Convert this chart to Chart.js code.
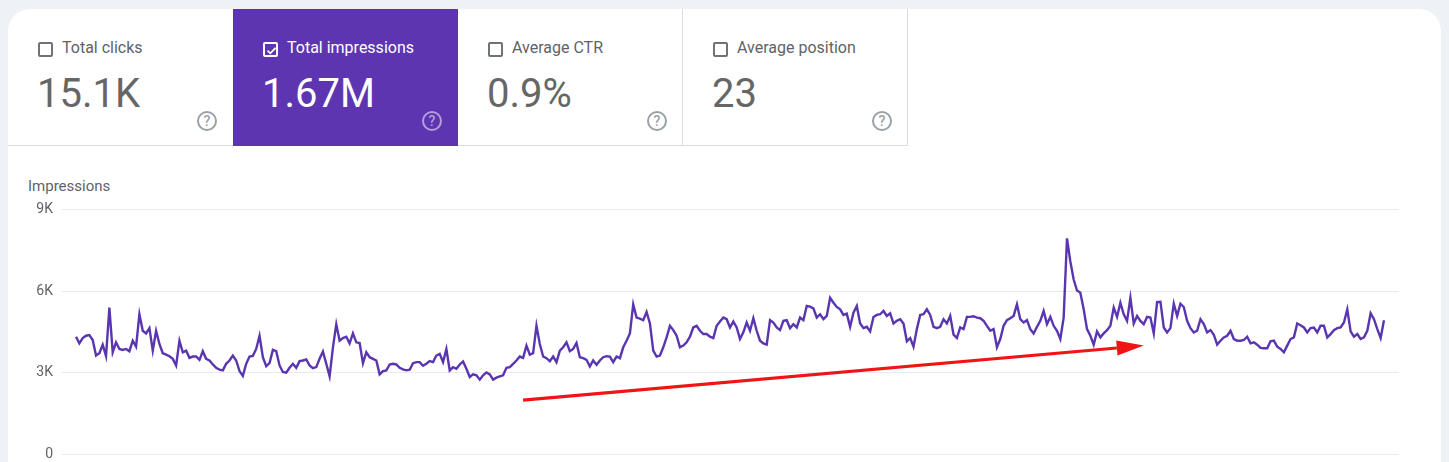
<!DOCTYPE html>
<html>
<head>
<meta charset="utf-8">
<script src="https://cdn.jsdelivr.net/npm/chart.js@4/dist/chart.umd.min.js"></script>
<style>
  html, body { margin: 0; padding: 0; overflow: hidden; }
  body { width: 1449px; height: 462px; background: #eef2f7; font-family: Roboto, Arial, sans-serif; position: relative; }
  .card { position: absolute; left: 8px; top: 9px; width: 1433px; height: 470px; background: #fff; border-radius: 22px 22px 0 0; overflow: hidden; }
  .tiles { position: absolute; left: 0; top: 0; height: 137px; }
  .tile { position: absolute; top: 0; width: 225px; height: 137px; box-sizing: border-box; border-bottom: 1px solid #dadce0; border-right: 1px solid #dadce0; color: #5f6368; }
  .tile.first { border-right: none; }
  .tile.on { background: #5e35b1; color: #fff; border: none; height: 137px; }
  .box { position: absolute; left: 30px; top: 33px; width: 15px; height: 15px; box-sizing: border-box; border: 2px solid #6f7378; border-radius: 2px; }
  .on .box { border-color: #fff; }
  .box svg { position: absolute; left: -1px; top: -1px; }
  .name { position: absolute; left: 54px; top: 30px; font-size: 16px; line-height: 18px; white-space: nowrap; }
  .value { position: absolute; left: 29px; top: 65px; font-size: 40px; line-height: 40px; color: #666; white-space: nowrap; }
  .on .value { color: #fff; }
  .help { position: absolute; left: 189px; top: 102px; width: 20px; height: 20px; box-sizing: border-box; border: 2px solid #9aa0a6; border-radius: 50%; color: #9aa0a6; font-size: 14px; line-height: 16px; text-align: center; font-weight: 500; }
  .on .help { border-color: #b39ddb; color: #b39ddb; }
  .axis-title { position: absolute; left: 20px; top: 170px; font-size: 15px; line-height: 15px; color: #5f6368; }
  .chart-box { position: absolute; left: 0; top: 183px; width: 1400px; height: 280px; }
</style>
</head>
<body>
<div class="card">
  <div class="tiles" id="tiles"></div>
  <div class="axis-title">Impressions</div>
  <div class="chart-box"><canvas id="myChart"></canvas></div>
</div>
<script>
var metricNames = ["Total clicks", "Total impressions", "Average CTR", "Average position"];
var metricValues = ["15.1K", "1.67M", "0.9%", "23"];
var selectedMetric = 1;

var yTicks = [0, 3000, 6000, 9000];

// daily impressions left to right
var impressions = [
  4327,4084,4278,4363,4387,4206,3636,3721,4036,3612,
  5393,3757,4121,3878,3842,3878,3794,4181,3963,5151,
  4545,4448,4642,3818,4545,4060,3721,3672,3612,3515,
  3272,4181,3757,3818,3551,3600,3600,3479,3794,3515,
  3454,3309,3188,3115,3091,3333,3454,3636,3454,3066,
  2885,3333,3600,3624,3878,4363,3575,3248,3357,3842,
  3794,3272,3030,3006,3188,3333,3188,3430,3454,
  3491,3272,3175,3212,3515,3781,3333,2872,3939,4787,
  4181,4278,4327,4084,4448,4121,4097,3357,3757,3575,
  3515,3454,2945,3066,3091,3309,3333,3309,3188,3127,
  3091,3115,3357,3394,3394,3260,3333,3430,3394,3636,
  3697,3394,3878,3091,3212,3151,3309,3418,3151,2848,
  2945,2909,2751,2909,3018,2945,2751,2824,2872,2909,
  3188,3212,3333,3454,3600,3551,4000,3672,
  3721,4727,4060,3600,3539,3430,3600,3394,3818,3939,
  4121,3794,3878,4097,3575,3539,3479,3236,3454,3297,
  3454,3575,3612,3600,3394,3600,3539,3939,4181,4448,
  5515,5030,4993,4933,5236,4812,3818,3600,3636,3939,
  4303,4727,4569,4363,3939,4000,4121,4327,4666,4727,
  4545,4424,4424,4327,4278,4727,4884,5030,4969,4666,
  4884,4666,4242,4485,4848,4545,5006,4545,4181,
  4084,4036,4933,4848,4666,4569,4909,4933,4642,4787,
  4666,5030,4933,5454,5430,5369,5030,5151,4969,5090,
  5757,5575,5418,5333,5127,5175,4690,5212,5454,4812,
  4642,4690,4521,5054,5127,5151,5272,5090,5187,4812,
  4909,4969,4812,4157,4278,3963,4606,5127,5151,5333,
  5127,4690,4642,4690,4969,4812,5090,4400,4278,4666,
  4606,5054,5054,5078,5030,5006,4909,4727,4545,
  4606,3939,4242,4727,4933,5006,5090,5515,4969,4848,
  4933,4606,4448,4691,4909,5272,4788,5054,4727,4545,
  4242,5030,7939,7090,6424,6024,5939,5333,4606,4363,
  4036,4521,4303,4448,4569,4727,5394,5054,5575,5151,
  4909,5757,4812,5090,4909,4788,5054,5030,4448,5600,
  5612,4666,4485,4642,5539,5090,5539,5418,4909,4642,
  4485,4545,4970,4788,4485,4569,4400,4036,
  4181,4303,4363,4545,4242,4181,4181,4206,4327,4084,
  4121,4036,3915,3903,3903,4157,4181,3963,3878,3757,
  4000,4242,4303,4812,4751,4666,4485,4642,4666,4485,
  4727,4727,4303,4424,4569,4642,4666,4848,5333,4521,
  4327,4424,4242,4303,4545,5187,4969,4606,4278,4933
];

// red trend arrow, in data units [day index, impressions]
var arrowFrom = [134, 2000];
var arrowTo = [320, 4000];

function renderTiles() {
  var tilesBlock = document.querySelector("#tiles");
  var htmls = metricNames.map(function (name, i) {
    var cls = "tile" + (i === 0 ? " first" : "") + (i === selectedMetric ? " on" : "");
    var check = i === selectedMetric
      ? '<svg width="15" height="15" viewBox="0 0 15 15"><path d="M3.5 7.6 L6.3 10.3 L11.6 4.8" stroke="#fff" stroke-width="1.8" fill="none"/></svg>'
      : "";
    return `
      <div class="${cls}" style="left:${i * 225}px">
        <div class="box">${check}</div>
        <div class="name">${name}</div>
        <div class="value">${metricValues[i]}</div>
        <div class="help">?</div>
      </div>
    `;
  });
  tilesBlock.innerHTML = htmls.join("");
}

var arrowPlugin = {
  id: "arrow",
  afterDatasetsDraw: function (chart) {
    var ctx = chart.ctx;
    var xs = chart.scales.x;
    var ys = chart.scales.y;
    var x1 = xs.getPixelForValue(arrowFrom[0]);
    var y1 = ys.getPixelForValue(arrowFrom[1]);
    var x2 = xs.getPixelForValue(arrowTo[0]);
    var y2 = ys.getPixelForValue(arrowTo[1]);
    var ang = Math.atan2(y2 - y1, x2 - x1);
    var headLen = 27;
    var headHalf = 7.5;
    var bx = x2 - headLen * Math.cos(ang);
    var by = y2 - headLen * Math.sin(ang);
    ctx.save();
    ctx.strokeStyle = "#f01414";
    ctx.fillStyle = "#f01414";
    ctx.lineWidth = 3.2;
    ctx.beginPath();
    ctx.moveTo(x1, y1);
    ctx.lineTo(bx, by);
    ctx.stroke();
    ctx.beginPath();
    ctx.moveTo(x2, y2);
    ctx.lineTo(bx + headHalf * Math.sin(ang), by - headHalf * Math.cos(ang));
    ctx.lineTo(bx - headHalf * Math.sin(ang), by + headHalf * Math.cos(ang));
    ctx.closePath();
    ctx.fill();
    ctx.restore();
  }
};

function createChart() {
  var points = impressions.map(function (v, i) {
    return { x: i, y: v };
  });
  var ctx = document.getElementById("myChart").getContext("2d");
  new Chart(ctx, {
    type: "line",
    data: {
      datasets: [
        {
          label: "Impressions",
          data: points,
          borderColor: "#5a35b0",
          borderWidth: 2.4,
          pointRadius: 0,
          tension: 0,
          fill: false,
        },
      ],
    },
    options: {
      responsive: true,
      maintainAspectRatio: false,
      animation: false,
      layout: { padding: { top: 7, bottom: 17, right: 9, left: 0 } },
      plugins: { legend: { display: false }, tooltip: { enabled: false } },
      scales: {
        x: {
          type: "linear",
          display: false,
          min: -4.2,
          max: impressions.length - 1 + 4.5,
        },
        y: {
          min: yTicks[0],
          max: yTicks[yTicks.length - 1],
          afterFit: function (scale) { scale.width = 54; },
          afterBuildTicks: function (scale) {
            scale.ticks = yTicks.map(function (v) { return { value: v }; });
          },
          border: { display: false },
          grid: { color: "#e8eaed", drawTicks: false },
          ticks: {
            padding: 9,
            color: "#5f6368",
            font: { family: "Roboto", size: 14 },
            callback: function (v) { return v === 0 ? "0" : v / 1000 + "K"; },
          },
        },
      },
    },
    plugins: [arrowPlugin],
  });
}

renderTiles();
createChart();
</script>
</body>
</html>
